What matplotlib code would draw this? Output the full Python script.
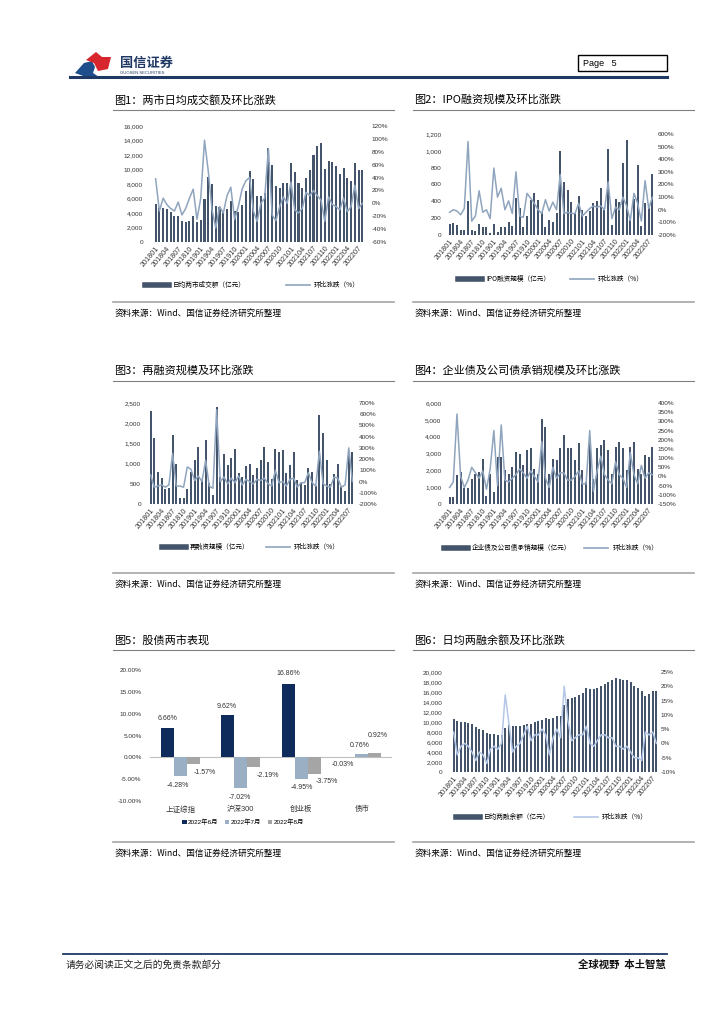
import numpy as np
import matplotlib
matplotlib.use('Agg')
import matplotlib.pyplot as plt
from matplotlib.lines import Line2D
from matplotlib.patches import Rectangle, Polygon
from matplotlib.ticker import FuncFormatter, FixedLocator

plt.rcParams['font.family'] = ['Liberation Sans', 'Noto Sans CJK SC', 'DejaVu Sans']
CJK = ['Noto Sans CJK SC', 'DejaVu Sans']

# ---------------- data ----------------
tick_labels = ['201801', '201804', '201807', '201810', '201901', '201904', '201907',
               '201910', '202001', '202004', '202007', '202010', '202101', '202104',
               '202107', '202110', '202201', '202204', '202207']

# Fig1: daily average turnover (亿元) and MoM (%)
turnover = [5300, 4700, 4700, 4600, 4200, 3600, 3600, 2900, 2700, 2900, 3600, 2800,
            3000, 6000, 9000, 8000, 5000, 4800, 4100, 4600, 5700, 4300, 4200, 5100,
            7000, 9800, 8700, 6300, 6300, 6800, 13000, 10600, 7700, 7400, 8200, 8200,
            10900, 9700, 8100, 7500, 8800, 9900, 12000, 13300, 13600, 10100, 11200, 11100,
            10500, 9400, 10200, 8800, 8400, 10900, 10000, 10000]
turnover_mom = [38, -12, 8, -2, -8, -12, 2, -18, -8, 8, 22, -25,
                8, 98, 50, -10, -38, -5, -15, 12, 25, -25, -5, 22,
                35, 40, -12, -28, 0, 8, 85, -18, -27, -5, 10, 0,
                33, -10, -15, -8, 17, 12, 20, 12, 5, -28, 10, -2,
                -5, -10, 8, -13, -5, 28, -8, 0]

# Fig2: IPO financing (亿元) and MoM (%)
ipo = [130, 140, 120, 55, 60, 400, 55, 50, 130, 100, 100, 25,
       130, 30, 90, 90, 155, 110, 440, 320, 100, 220, 410, 500,
       420, 270, 100, 180, 160, 260, 1000, 630, 540, 390, 260, 460,
       300, 230, 290, 380, 400, 560, 300, 1020, 120, 430, 390, 860,
       1130, 180, 430, 830, 110, 380, 320, 720]
ipo_mom = [-20, 0, -10, -40, 10, 540, -90, -50, 150, -20, 0, -70,
           330, 100, 170, 0, 70, -30, 300, -50, -60, 130, 90, 50,
           0, -30, 80, -10, 60, 0, 280, -30, -20, -30, -30, 50,
           -50, -20, 10, 30, 20, 30, 0, 220, -70, 20, 0, 100,
           30, -85, 130, 50, -90, 230, 10, 100]

# Fig3: refinancing (亿元) and MoM (%)
refin = [2300, 1630, 780, 650, 380, 400, 1700, 1000, 150, 160, 380, 800,
         1080, 1400, 600, 1580, 520, 230, 2400, 660, 1250, 960, 1130, 1350,
         760, 680, 930, 1000, 720, 880, 1080, 1420, 1050, 620, 1350, 1280,
         1340, 760, 960, 1290, 600, 510, 480, 900, 780, 450, 2200, 1750,
         1080, 500, 740, 1000, 420, 310, 1250, 1280]
refin_mom = [60, -50, -40, -30, -50, -30, 250, -40, -40, -50, 130, 110,
             10, 50, 0, 190, -40, -60, 640, 0, 40, -20, 30, -10,
             50, -30, 20, 0, -20, 20, 10, 30, -20, -40, 100, -10,
             0, -40, 20, 30, -50, -10, -10, 80, -10, -40, 270, -20,
             -40, -50, 40, 30, -50, -30, 300, 0]

# Fig4: enterprise & corporate bond underwriting (亿元) and MoM (%)
bond = [400, 400, 1700, 1900, 950, 950, 1500, 1800, 1900, 2700, 500, 1800,
        700, 2800, 2800, 2000, 1800, 2200, 3100, 3000, 2300, 3200, 3300, 2100,
        1800, 5050, 4600, 1800, 2700, 2600, 3300, 4100, 3300, 3300, 2600, 3600,
        2000, 1300, 3600, 1500, 3300, 3500, 3800, 3200, 1800, 3400, 3700, 3300,
        2000, 3400, 3700, 2100, 1800, 2900, 2800, 3400]
bond_mom = [-60, -30, 340, 0, -60, -20, 50, 20, -10, 30, -70, 40,
            250, -50, 280, -20, -30, -10, 10, 40, 20, -10, 30, 0,
            -30, 190, -10, -60, 50, -10, 20, 20, -20, -20, 0, 30,
            -40, -40, 250, -80, 30, 110, 10, -20, -40, 80, 10, -10,
            -60, 130, 10, -40, 60, -10, 20, 10]

# Fig5: stock & bond market performance (%)
cats5 = ['上证综指', '沪深300', '创业板', '债市']
series5 = ['2022年6月', '2022年7月', '2022年8月']
jun22 = [6.66, 9.62, 16.86, -0.03]
jul22 = [-4.28, -7.02, -4.95, 0.76]
aug22 = [-1.57, -2.19, -3.75, 0.92]

# Fig6: daily average margin balance (亿元) and MoM (%)
margin = [10600, 10200, 10000, 10000, 9900, 9600, 9000, 8700, 8400, 7800, 7700, 7600,
          7500, 7500, 8800, 9400, 9300, 9200, 9200, 9500, 9600, 9700, 10000, 10300,
          10500, 10900, 10600, 10800, 11300, 11200, 13500, 14700, 14900, 15100, 15500, 15900,
          16800, 16700, 16700, 16800, 17300, 17700, 18000, 18400, 18800, 18600, 18500, 18400,
          18000, 17200, 16900, 16200, 15300, 15600, 16200, 16200]
margin_mom = [4, -4, -1, 0, -1, -3, -6, -3, -4, -7, -2, -1,
              -2, 0, 17, 7, -3, -1, 0, 3, 6, 1, 3, 3,
              5, 3, -4, 2, 5, 2, 20, 8, 1, 2, 3, 3,
              6, 0, -1, 1, 3, 3, 2, 2, -1, -1, -2, -1,
              -3, -5, -5, -6, 4, 3, 4, 0]

# ---------------- styles ----------------
BAR_C = '#44546A'
LINE_C = '#8FA4BD'
LINE6_C = '#B4C7E7'
NAVY5 = '#0E2B5C'
LIGHT5 = '#9BAFC4'
GRAY5 = '#A5A5A5'
HDR = '#1F3864'
TXT = '#333333'

W, H = 724, 1024
fig = plt.figure(figsize=(W / 100, H / 100), dpi=100)


def fx(x):
    return x / W


def fy(y):
    return 1 - y / H


def rect(x0, y0, x1, y1):
    return [x0 / W, 1 - y1 / H, (x1 - x0) / W, (y1 - y0) / H]


def hline(x0, x1, y, color, lw):
    fig.add_artist(Line2D([fx(x0), fx(x1)], [fy(y), fy(y)],
                          transform=fig.transFigure, color=color, lw=lw))


def ftext(x, y, s, **kw):
    fig.text(fx(x), fy(y), s, **kw)


# ---------------- header / footer ----------------
fig.add_artist(Polygon([(fx(75), fy(73)), (fx(84), fy(63)), (fx(92), fy(61)), (fx(95), fy(67)),
                        (fx(93), fy(73)), (fx(99), fy(77)), (fx(86), fy(77))],
                       closed=True, transform=fig.transFigure, color='#1F4E8C', lw=0))
fig.add_artist(Polygon([(fx(86), fy(60)), (fx(96), fy(52)), (fx(102), fy(57)), (fx(111), fy(57)),
                        (fx(108), fy(69)), (fx(98), fy(71)), (fx(94), fy(63))],
                       closed=True, transform=fig.transFigure, color='#D7262E', lw=0))
ftext(120, 63, '国信证券', family=CJK, fontsize=9.5, fontweight='bold', color='#1F3864',
      va='center', ha='left')
ftext(120, 73, 'GUOSEN SECURITIES', fontsize=3, color='#1F3864', va='center', ha='left')
fig.add_artist(Rectangle((fx(578), fy(71)), fx(667) - fx(578), fy(55) - fy(71),
                         transform=fig.transFigure, fill=False, ec='black', lw=1.0))
ftext(583, 63.5, 'Page   5', fontsize=6.5, va='center', ha='left', color='black')
hline(70, 667, 77, HDR, 2.2)

hline(63, 667, 954, HDR, 1.3)
ftext(66, 965, '请务必阅读正文之后的免责条款部分', family=CJK, fontsize=7, va='center',
      ha='left', color='#222222')
ftext(666, 965, '全球视野  本土智慧', family=CJK, fontsize=7.5, fontweight='bold',
      style='italic', va='center', ha='right', color='#111111')

# ---------------- titles / sources ----------------
titles = [('图1：两市日均成交额及环比涨跌', 113, 100), ('图2：IPO融资规模及环比涨跌', 413, 100),
          ('图3：再融资规模及环比涨跌', 113, 371), ('图4：企业债及公司债承销规模及环比涨跌', 413, 371),
          ('图5：股债两市表现', 113, 640), ('图6：日均两融余额及环比涨跌', 413, 640)]
for t, x, y in titles:
    ftext(x + 1, y, t, family=CJK, fontsize=8, va='center', ha='left', color='black')
    hline(x, x + 281, y + 9.5, '#808080', 0.8)
    hline(x, x + 281, y + 202, '#A6A6A6', 1.2)
    ftext(x + 2, y + 213, '资料来源：Wind、国信证券经济研究所整理', family=CJK, fontsize=6.2,
          va='center', ha='left', color='black')


# ---------------- time-series panels ----------------
def ts_panel(box, bars, line, lmax, lstep, rlim, rstep, labels, lcolor, leg_center,
             pads, colsp):
    ax = fig.add_axes(rect(*box))
    x = np.arange(len(bars))
    ax.bar(x, bars, width=0.55, color=BAR_C, zorder=2)
    ax.set_xlim(-0.7, len(bars) - 0.3)
    ax.set_ylim(0, lmax)
    ax.yaxis.set_major_locator(FixedLocator(np.arange(0, lmax + 1, lstep)))
    ax.yaxis.set_major_formatter(FuncFormatter(lambda v, p: f'{v:,.0f}'))
    ax.set_xticks(x[::3])
    ax.set_xticklabels(tick_labels, rotation=50, ha='right', va='top',
                       rotation_mode='anchor', fontsize=5.2, color=TXT)
    ax.tick_params(axis='y', length=0, pad=pads[0], labelsize=4.6, colors=TXT)
    ax.tick_params(axis='x', length=0, pad=2)
    ax2 = ax.twinx()
    ax2.plot(x, line, color=lcolor, lw=1.1, zorder=3)
    ax2.set_ylim(*rlim)
    ax2.yaxis.set_major_locator(FixedLocator(np.arange(rlim[0], rlim[1] + 1, rstep)))
    ax2.yaxis.set_major_formatter(FuncFormatter(lambda v, p: f'{v:.0f}%'))
    ax2.tick_params(axis='y', length=0, pad=pads[1], labelsize=4.6, colors=TXT)
    for a in (ax, ax2):
        for s in a.spines.values():
            s.set_visible(False)
    handles = [Line2D([0], [0], color=BAR_C, lw=4), Line2D([0], [0], color=lcolor, lw=1.2)]
    ax2.legend(handles, labels, loc='center', bbox_to_anchor=(fx(leg_center[0]), fy(leg_center[1])),
               bbox_transform=fig.transFigure, ncol=2, frameon=False,
               prop={'family': CJK, 'size': 4.8}, handlelength=3.6, handletextpad=0.6,
               columnspacing=colsp)
    return ax, ax2


ts_panel((153, 126, 365, 242), turnover, turnover_mom, 16000, 2000, (-60, 120), 20,
         ['日均两市成交额（亿元）', '环比涨跌（%）'], LINE_C, (252, 285), (7, 5), 6.0)
ts_panel((447, 134, 655, 235), ipo, ipo_mom, 1200, 200, (-200, 600), 100,
         ['IPO融资规模（亿元）', '环比涨跌（%）'], LINE_C, (551, 279), (4, 2), 3.0)
ts_panel((148, 403, 355, 504), refin, refin_mom, 2500, 500, (-200, 700), 100,
         ['再融资规模（亿元）', '环比涨跌（%）'], LINE_C, (251, 547), (5, 3), 2.5)
ts_panel((447, 403, 655, 504), bond, bond_mom, 6000, 1000, (-150, 400), 50,
         ['企业债及公司债承销规模（亿元）', '环比涨跌（%）'], LINE_C, (551, 548), (4, 2), 2.0)
ts_panel((451, 672, 659, 772), margin, margin_mom, 20000, 2000, (-10, 25), 5,
         ['日均两融余额（亿元）', '环比涨跌（%）'], LINE6_C, (552, 817), (6, 1), 3.5)

# ---------------- Fig5 grouped bars ----------------
ax5 = fig.add_axes(rect(150, 670, 392, 801))
xc = np.arange(len(cats5))
bw = 0.215
vals5 = [jun22, jul22, aug22]
cols5 = [NAVY5, LIGHT5, GRAY5]
offs5 = [-bw, 0, bw]
# label offsets in pixels (dx right, dy up)
lab_off = [[(0, 10), (-1, 9), (0, 10), (-6, -7)],
           [(-2, -9), (-1, -10), (1, -9), (-2, 9)],
           [(12, -8), (14, -9), (13, -8), (3, 18)]]
for vals, c, o, name, lo in zip(vals5, cols5, offs5, series5, lab_off):
    ax5.bar(xc + o, vals, bw, color=c, label=name, zorder=2)
    for xi, v, (dx, dy) in zip(xc, vals, lo):
        ax5.annotate(f'{v:.2f}%', xy=(xi + o, v), xytext=(dx * 0.72, dy * 0.72),
                     textcoords='offset points', ha='center', va='center',
                     fontsize=5, color=TXT)
ax5.axhline(0, color='#BFBFBF', lw=0.8, zorder=1)
ax5.set_xlim(-0.5, len(cats5) - 0.5)
ax5.set_ylim(-10, 20)
ax5.yaxis.set_major_locator(FixedLocator(np.arange(-10, 21, 5)))
ax5.yaxis.set_major_formatter(FuncFormatter(lambda v, p: f'{v:.2f}%'))
ax5.set_xticks(xc)
ax5.set_xticklabels(cats5, fontsize=5.4, color=TXT)
ax5.tick_params(axis='y', length=0, pad=6, labelsize=4.6, colors=TXT)
ax5.tick_params(axis='x', length=0, pad=3.5)
for s in ax5.spines.values():
    s.set_visible(False)
ax5.legend(loc='center', bbox_to_anchor=(fx(243), fy(822)), bbox_transform=fig.transFigure,
           ncol=3, frameon=False, prop={'family': ['Liberation Sans', 'Noto Sans CJK SC'], 'size': 4.6},
           handlelength=0.7, handleheight=0.7, handletextpad=0.2, columnspacing=1.0)

fig.savefig('out.png', dpi=100)
